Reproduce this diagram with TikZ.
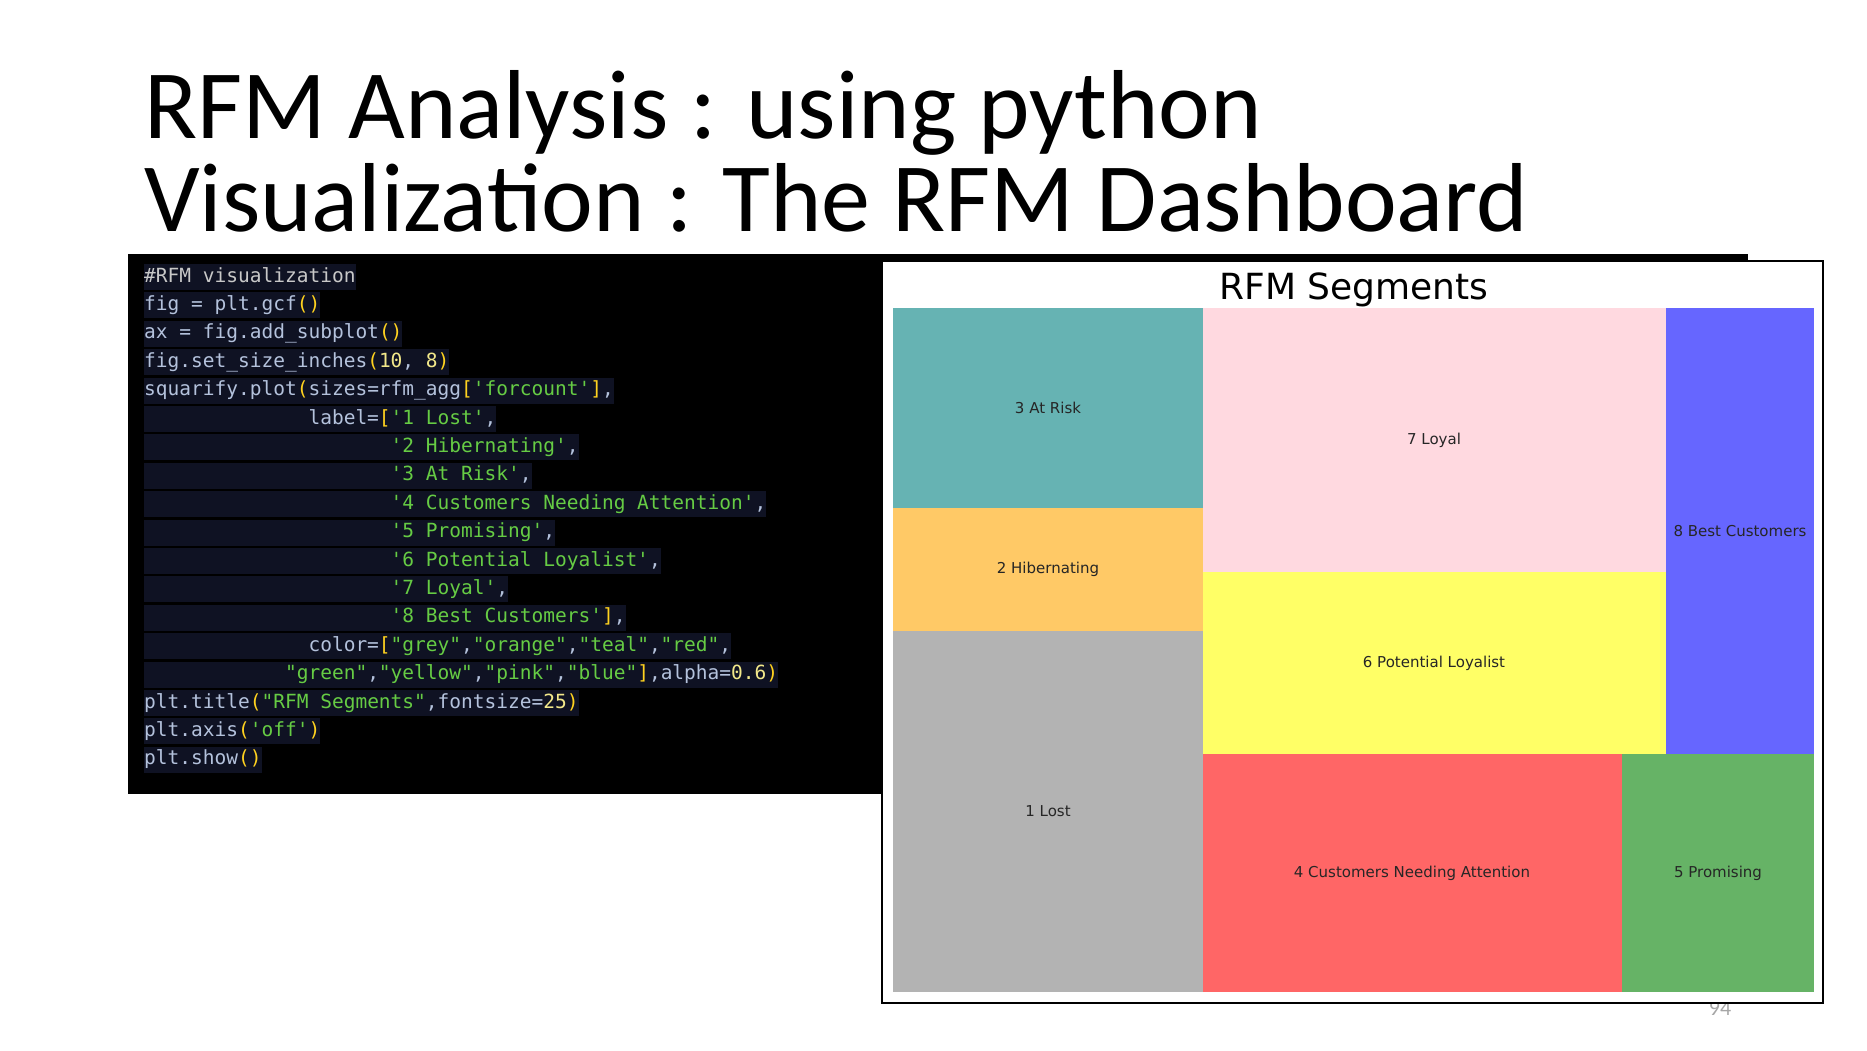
\documentclass[tikz,border=0pt]{standalone}
\usepackage{fontspec}
\setmainfont{Carlito}
\newfontfamily\codefont{DejaVu Sans Mono}
\newfontfamily\plotfont{DejaVu Sans}
\definecolor{band}{HTML}{0F1223}
\definecolor{cdef}{HTML}{B4C2DC}
\definecolor{cyel}{HTML}{FFD21F}
\definecolor{cnum}{HTML}{F2E88A}
\definecolor{cstr}{HTML}{66CC44}
\definecolor{ccom}{HTML}{C8C8C8}
\definecolor{tgrey}{RGB}{179,179,179}
\definecolor{torange}{RGB}{255,201,102}
\definecolor{tteal}{RGB}{102,179,179}
\definecolor{tred}{RGB}{255,102,102}
\definecolor{tgreen}{RGB}{102,179,102}
\definecolor{tyellow}{RGB}{255,255,102}
\definecolor{tpink}{RGB}{255,217,224}
\definecolor{tblue}{RGB}{102,102,255}
\newcommand\Yc[1]{\textcolor{cyel}{#1}}
\newcommand\Gc[1]{\textcolor{cstr}{#1}}
\newcommand\Nc[1]{\textcolor{cnum}{#1}}
\newcommand\sq{\textquotesingle}
\newcommand\dq{\textquotedbl}
\newcommand\ind[1]{\hspace*{#1}}
\begin{document}
\begin{tikzpicture}[x=1pt,y=-1pt,
  code/.style={anchor=base west,fill=band,inner xsep=0pt,inner ysep=3pt,text height=15pt,text depth=5pt,
    font=\codefont\fontsize{19.5}{22}\selectfont,text=cdef},
  cell/.style={draw=none,inner sep=0pt,font=\plotfont\fontsize{15}{17}\selectfont,text=black!85}]
\useasboundingbox (0,0) rectangle (1867,1050);
\fill[white] (0,0) rectangle (1867,1050);
\node[anchor=base west,inner sep=0pt,font=\fontsize{98}{110}\selectfont,text=black] (t1) at (144,138) {RFM Analysis : using python};
\node[anchor=base west,inner sep=0pt,font=\fontsize{98}{110}\selectfont,text=black] (t2) at (144,231) {Visualization : The RFM Dashboard};
% code panel
\fill[black] (128,254) rectangle (1748,794);
\def\ly#1{275+28.4*#1}
\node[code,text=ccom] (c0) at (144,{\ly{0}+7}) {\#RFM visualization};
\node[code] (c1) at (144,{\ly{1}+7}) {fig = plt.gcf\Yc{()}};
\node[code] (c2) at (144,{\ly{2}+7}) {ax = fig.add\_subplot\Yc{()}};
\node[code] (c3) at (144,{\ly{3}+7}) {fig.set\_size\_inches\Yc{(}\Nc{10}, \Nc{8}\Yc{)}};
\node[code] (c4) at (144,{\ly{4}+7}) {squarify.plot\Yc{(}sizes=rfm\_agg\Yc{[}\Gc{\sq forcount\sq}\Yc{]},};
\node[code] (c5) at (144,{\ly{5}+7}) {\ind{8.428em}label=\Yc{[}\Gc{\sq 1 Lost\sq},};
\node[code] (c6) at (144,{\ly{6}+7}) {\ind{12.642em}\Gc{\sq 2 Hibernating\sq},};
\node[code] (c7) at (144,{\ly{7}+7}) {\ind{12.642em}\Gc{\sq 3 At Risk\sq},};
\node[code] (c8) at (144,{\ly{8}+7}) {\ind{12.642em}\Gc{\sq 4 Customers Needing Attention\sq},};
\node[code] (c9) at (144,{\ly{9}+7}) {\ind{12.642em}\Gc{\sq 5 Promising\sq},};
\node[code] (c10) at (144,{\ly{10}+7}) {\ind{12.642em}\Gc{\sq 6 Potential Loyalist\sq},};
\node[code] (c11) at (144,{\ly{11}+7}) {\ind{12.642em}\Gc{\sq 7 Loyal\sq},};
\node[code] (c12) at (144,{\ly{12}+7}) {\ind{12.642em}\Gc{\sq 8 Best Customers\sq}\Yc{]},};
\node[code] (c13) at (144,{\ly{13}+7}) {\ind{8.428em}color=\Yc{[}\Gc{\dq grey\dq},\Gc{\dq orange\dq},\Gc{\dq teal\dq},\Gc{\dq red\dq},};
\node[code] (c14) at (144,{\ly{14}+7}) {\ind{7.224em}\Gc{\dq green\dq},\Gc{\dq yellow\dq},\Gc{\dq pink\dq},\Gc{\dq blue\dq}\Yc{]},alpha=\Nc{0.6}\Yc{)}};
\node[code] (c15) at (144,{\ly{15}+7}) {plt.title\Yc{(}\Gc{\dq RFM Segments\dq},fontsize=\Nc{25}\Yc{)}};
\node[code] (c16) at (144,{\ly{16}+7}) {plt.axis\Yc{(}\Gc{\sq off\sq}\Yc{)}};
\node[code] (c17) at (144,{\ly{17}+7}) {plt.show\Yc{()}};
% page number
\node[text=black!35,font=\fontsize{22}{24}\selectfont] (pn) at (1720,1008) {94};
% plot frame
\draw[fill=white,line width=1.5pt] (882,261) rectangle (1823,1003);
\node[font=\plotfont\fontsize{36}{40}\selectfont,anchor=base,inner sep=0pt] (pt) at (1354,299) {RFM Segments};
\fill[tteal] (893,308) rectangle (1203,508);
\fill[torange] (893,508) rectangle (1203,631);
\fill[tgrey] (893,631) rectangle (1203,992);
\fill[tpink] (1203,308) rectangle (1666,572);
\fill[tyellow] (1203,572) rectangle (1666,754);
\fill[tblue] (1666,308) rectangle (1814,754);
\fill[tred] (1203,754) rectangle (1622,992);
\fill[tgreen] (1622,754) rectangle (1814,992);
\node[cell] (s3) at (1048,408) {3 At Risk};
\node[cell] (s2) at (1048,569) {2 Hibernating};
\node[cell] (s1) at (1048,811) {1 Lost};
\node[cell] (s7) at (1434,440) {7 Loyal};
\node[cell] (s6) at (1434,663) {6 Potential Loyalist};
\node[cell] (s8) at (1740,531) {8 Best Customers};
\node[cell] (s4) at (1412,873) {4 Customers Needing Attention};
\node[cell] (s5) at (1718,873) {5 Promising};
\end{tikzpicture}
\end{document}
